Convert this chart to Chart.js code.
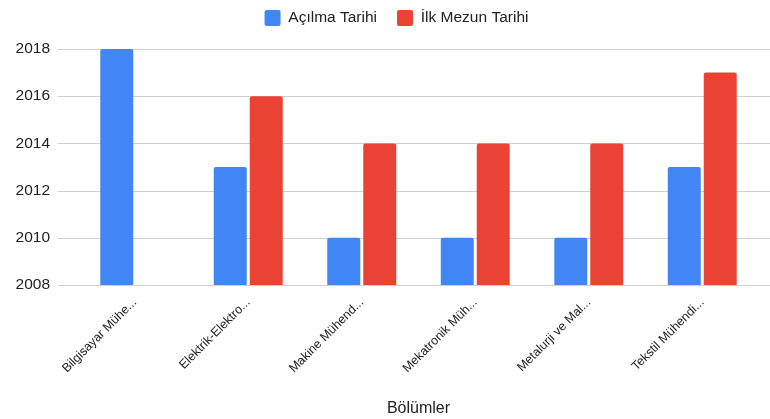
<!DOCTYPE html>
<html>
<head>
<meta charset="utf-8">
<script src="https://cdn.jsdelivr.net/npm/chart.js@4"></script>
<style>
  html, body { margin: 0; padding: 0; background: #fff; }
  #wrap { width: 770px; height: 419px; position: relative; }
</style>
</head>
<body>
<div id="wrap"><canvas id="chart"></canvas></div>
<script>
// ----- Data -----
const BOLUMLER = [
  "Bilgisayar Mühe...", "Elektrik-Elektro...", "Makine Mühend...",
  "Mekatronik Müh...", "Metalurji ve Mal...", "Tekstil Mühendi..."
];
const ACILMA = [2018, 2013, 2010, 2010, 2010, 2013];
const ILK_MEZUN = [null, 2016, 2014, 2014, 2014, 2017];
const Y_MIN = 2008, Y_MAX = 2018, Y_STEP = 2;

const BLUE = '#4285F4';
const RED = '#EA4335';
const FONT = "'Liberation Sans', Arial, sans-serif";

// horizontal gridlines run a bit past the plot on both sides
const gridPlugin = {
  id: 'wideGrid',
  beforeDatasetsDraw(chart){
    const y = chart.scales.y, c = chart.ctx;
    c.save();
    c.strokeStyle = '#cfcfcf';
    c.lineWidth = 1;
    for (const t of y.ticks){
      const py = Math.round(y.getPixelForValue(t.value)) + 0.5;
      c.beginPath(); c.moveTo(58, py); c.lineTo(770, py); c.stroke();
    }
    c.restore();
  }
};

// legend keeps extra room underneath it, and sits centred over the plot
const legendSpace = {
  id: 'legendSpace',
  beforeInit(chart){
    const fit = chart.legend.fit;
    chart.legend.fit = function(){
      fit.bind(this)();
      this.height = 59;
    };
  },
  afterLayout(chart){
    chart.legend.left += 11;
    chart.legend.right += 11;
  }
};

const ctx = document.getElementById('chart').getContext('2d');
new Chart(ctx, {
  type: 'bar',
  data: {
    labels: BOLUMLER,
    datasets: [
      { label: 'Açılma Tarihi', data: ACILMA, backgroundColor: BLUE, borderRadius: 2 },
      { label: 'İlk Mezun Tarihi', data: ILK_MEZUN, backgroundColor: RED, borderRadius: 2 }
    ]
  },
  options: {
    responsive: true,
    maintainAspectRatio: false,
    animation: false,
    datasets: { bar: { categoryPercentage: 0.634, barPercentage: 0.917 } },
    layout: { padding: { left: 12, right: 11, top: -10, bottom: 0 } },
    plugins: {
      legend: {
        position: 'top',
        labels: {
          color: '#222', boxWidth: 16, boxHeight: 16, padding: 20,
          font: { family: FONT, size: 15.5 },
          useBorderRadius: true, borderRadius: 2
        }
      },
      tooltip: { enabled: false }
    },
    scales: {
      x: {
        grid: { display: false },
        border: { display: false },
        afterFit(s){ s.height = 134; s.paddingLeft = 0; s.paddingRight = 0; },
        ticks: {
          color: '#222', maxRotation: 45, minRotation: 45, autoSkip: false, padding: 2,
          font: { family: FONT, size: 12.5 }
        },
        title: { display: true, text: 'Bölümler', color: '#222', padding: { top: 4, bottom: 1 },
                 font: { family: FONT, size: 16 } }
      },
      y: {
        min: Y_MIN, max: Y_MAX,
        grid: { display: false, drawTicks: false },
        border: { display: false },
        afterFit(s){ s.width = 66; },
        ticks: {
          stepSize: Y_STEP, color: '#222', padding: 28,
          font: { family: FONT, size: 15.5 },
          callback: v => String(v)
        }
      }
    }
  },
  plugins: [gridPlugin, legendSpace]
});
</script>
</body>
</html>
